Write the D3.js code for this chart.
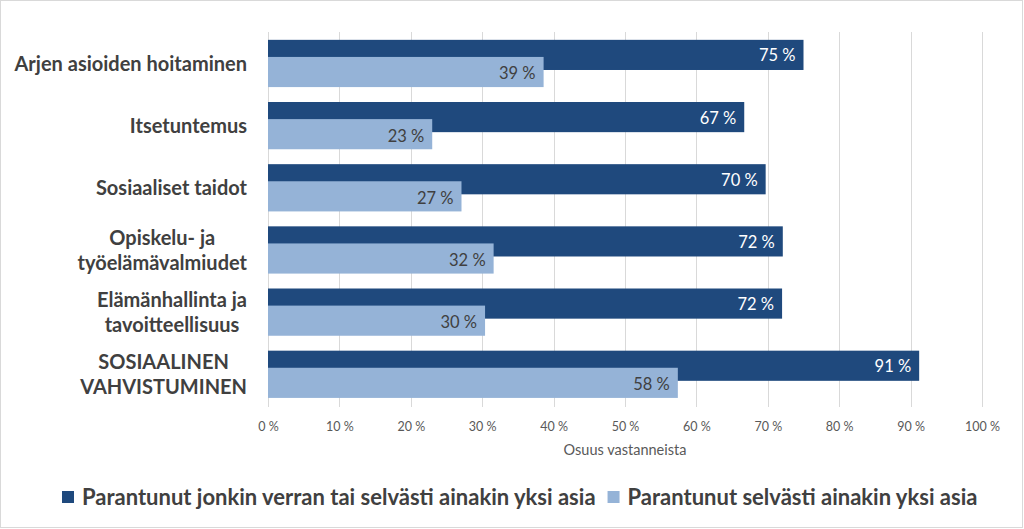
<!DOCTYPE html>
<html>
<head>
<meta charset="utf-8">
<script src="https://cdn.jsdelivr.net/npm/d3@7"></script>
<style>
  body { margin: 0; background: #fff; }
  svg { display: block; font-family: Lato, "Open Sans", sans-serif; }
</style>
</head>
<body>
<svg id="chart" width="1024" height="529"></svg>
<script>
const categories = [
  ["Arjen asioiden hoitaminen"],
  ["Itsetuntemus"],
  ["Sosiaaliset taidot"],
  ["Opiskelu- ja", "työelämävalmiudet"],
  ["Elämänhallinta ja", "tavoitteellisuus"],
  ["SOSIAALINEN", "VAHVISTUMINEN"]
];
const seriesNames = [
  "Parantunut jonkin verran tai selvästi ainakin yksi asia",
  "Parantunut selvästi ainakin yksi asia"
];
const darkValues = [75.0, 66.7, 69.7, 72.1, 72.0, 91.2];
const lightValues = [38.6, 23.0, 27.1, 31.6, 30.4, 57.4];
const darkLabels = ["75 %", "67 %", "70 %", "72 %", "72 %", "91 %"];
const lightLabels = ["39 %", "23 %", "27 %", "32 %", "30 %", "58 %"];
const tickValues = [0, 10, 20, 30, 40, 50, 60, 70, 80, 90, 100];
const tickLabels = ["0 %", "10 %", "20 %", "30 %", "40 %", "50 %", "60 %", "70 %", "80 %", "90 %", "100 %"];
const axisTitle = "Osuus vastanneista";

const darkColor = "#1f497d";
const lightColor = "#95b3d7";

const svg = d3.select("#chart");
svg.append("rect").attr("x", 0.5).attr("y", 0.5).attr("width", 1022).attr("height", 527)
  .attr("fill", "#fff").attr("stroke", "#d9d9d9");

const x = d3.scaleLinear().domain([0, 100]).range([268, 982]);
const idx = categories.map((d, i) => i);
const y = d3.scaleBand().domain(idx).range([33, 406]);
const bw = y.bandwidth();
const plotTop = 32, plotBottom = 407;

svg.append("g").selectAll("line").data(tickValues).join("line")
  .attr("x1", d => Math.round(x(d)) + 0.5).attr("x2", d => Math.round(x(d)) + 0.5)
  .attr("y1", plotTop).attr("y2", plotBottom)
  .attr("stroke", "#d9d9d9").attr("stroke-width", 1);

const axis = d3.axisBottom(x).tickValues(tickValues).tickSize(0)
  .tickFormat((d, i) => tickLabels[i]);
const ax = svg.append("g").attr("transform", `translate(0,${plotBottom + 12})`).call(axis);
ax.select(".domain").remove();
ax.selectAll("text").attr("fill", "#595959").style("font-size", "12.5px")
  .style("font-family", "Lato, sans-serif");

svg.append("text").attr("x", x(50)).attr("y", 455).attr("text-anchor", "middle")
  .attr("fill", "#595959").style("font-size", "14.5px").text(axisTitle);

const dTop = bw * 0.11, lTop = bw * 0.385, bh = bw * 0.485;
svg.append("g").selectAll("rect").data(darkValues).join("rect")
  .attr("x", x(0)).attr("y", (d, i) => y(i) + dTop)
  .attr("width", d => x(d) - x(0)).attr("height", bh).attr("fill", darkColor);
svg.append("g").selectAll("rect").data(lightValues).join("rect")
  .attr("x", x(0)).attr("y", (d, i) => y(i) + lTop)
  .attr("width", d => x(d) - x(0)).attr("height", bh).attr("fill", lightColor);

svg.append("g").selectAll("text").data(darkValues).join("text")
  .attr("x", d => x(d) - 8).attr("y", (d, i) => y(i) + dTop + 21.5)
  .attr("text-anchor", "end").attr("fill", "#fff").style("font-size", "16.5px")
  .text((d, i) => darkLabels[i]);
svg.append("g").selectAll("text").data(lightValues).join("text")
  .attr("x", d => x(d) - 8).attr("y", (d, i) => y(i) + lTop + 22.5)
  .attr("text-anchor", "end").attr("fill", "#404040").style("font-size", "16.5px")
  .text((d, i) => lightLabels[i]);

const labelRight = 247;
categories.forEach((lines, i) => {
  const g = svg.append("g");
  const lh = 25;
  const cy = y(i) + bw / 2;
  const texts = lines.map((t, j) => g.append("text")
    .attr("y", cy - (lines.length - 1) * lh / 2 + j * lh + 7)
    .attr("fill", "#404040").style("font-size", "20px").style("font-weight", "bold")
    .attr("text-anchor", "middle").text(t));
  const maxW = d3.max(texts, t => t.node().getComputedTextLength());
  texts.forEach(t => t.attr("x", labelRight - maxW / 2));
});

const legend = svg.append("g");
let lx = 62;
seriesNames.forEach((name, i) => {
  legend.append("rect").attr("x", lx).attr("y", 491).attr("width", 12).attr("height", 12)
    .attr("fill", i === 0 ? darkColor : lightColor);
  const t = legend.append("text").attr("x", lx + 20).attr("y", 505)
    .attr("fill", "#404040").style("font-size", "22px").style("font-weight", "bold").text(name);
  lx += 20 + t.node().getComputedTextLength() + 12;
});
</script>
</body>
</html>
